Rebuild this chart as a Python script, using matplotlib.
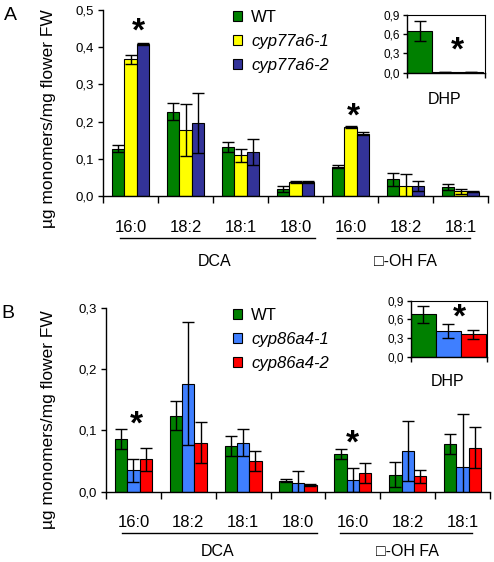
import matplotlib
matplotlib.use("Agg")
import matplotlib.pyplot as plt
from matplotlib.patches import Patch
import numpy as np

plt.rcParams['font.family'] = ['Liberation Sans', 'DejaVu Sans']

# fatty acid groups on the x axis
groups = ['16:0', '18:2', '18:1', '18:0', '16:0', '18:2', '18:1']
class_names = ['DCA', '\u25a1-OH FA']

# panel A: cyp77a6 lines
lines_a = ['WT', 'cyp77a6-1', 'cyp77a6-2']
colors_a = ['#008000', '#ffff00', '#333399']
a_wt = [0.127, 0.227, 0.132, 0.018, 0.078, 0.045, 0.023]
a_wt_err = [0.010, 0.022, 0.013, 0.008, 0.004, 0.018, 0.008]
a_m1 = [0.367, 0.177, 0.109, 0.038, 0.185, 0.027, 0.013]
a_m1_err = [0.013, 0.070, 0.017, 0.003, 0.003, 0.032, 0.007]
a_m2 = [0.408, 0.196, 0.118, 0.037, 0.168, 0.027, 0.012]
a_m2_err = [0.003, 0.080, 0.036, 0.002, 0.003, 0.013, 0.001]
a_dhp = [0.655, 0.012, 0.004]
a_dhp_err = [0.155, 0.004, 0.0]

# panel B: cyp86a4 lines
lines_b = ['WT', 'cyp86a4-1', 'cyp86a4-2']
colors_b = ['#008000', '#3f7fff', '#ff0000']
b_wt = [0.086, 0.124, 0.075, 0.018, 0.062, 0.028, 0.078]
b_wt_err = [0.016, 0.024, 0.016, 0.002, 0.008, 0.021, 0.016]
b_m1 = [0.035, 0.176, 0.080, 0.015, 0.019, 0.066, 0.041]
b_m1_err = [0.019, 0.100, 0.022, 0.018, 0.019, 0.049, 0.086]
b_m2 = [0.053, 0.080, 0.050, 0.011, 0.031, 0.025, 0.072]
b_m2_err = [0.019, 0.033, 0.016, 0.001, 0.016, 0.011, 0.033]
b_dhp = [0.68, 0.413, 0.36]
b_dhp_err = [0.14, 0.11, 0.07]

yticks_a = [0.0, 0.1, 0.2, 0.3, 0.4, 0.5]
yticks_b = [0.0, 0.1, 0.2, 0.3]
dhp_ticks = [0.0, 0.3, 0.6, 0.9]

W, H = 494, 562
fig = plt.figure(figsize=(W / 100, H / 100), dpi=100)


def fig_rect(x0, y0, x1, y1):
    # pixel box -> figure fraction rect
    return [x0 / W, 1 - y1 / H, (x1 - x0) / W, (y1 - y0) / H]


def comma(v):
    return f"{v:.1f}".replace('.', ',')


def main_panel(rect, series, errs, colors, yticks, labels, letter, letter_xy, ylab_xy, class_y):
    ax = fig.add_axes(rect)
    x = np.arange(len(groups))
    w = 0.225
    for i, (vals, err, c) in enumerate(zip(series, errs, colors)):
        xs = x + (i - 1) * w
        ax.bar(xs, vals, w, color=c, edgecolor='black', linewidth=0.8, zorder=2)
        ax.errorbar(xs, vals, yerr=err, fmt='none', ecolor='black',
                    elinewidth=1.0, capsize=4.5, capthick=1.0, zorder=3)
    ax.set_xlim(-0.5, len(groups) - 0.5)
    ax.set_ylim(yticks[0], yticks[-1])
    ax.set_yticks(yticks, [comma(v) for v in yticks], fontsize=9.5)
    ax.set_xticks(np.arange(-0.5, len(groups)), [])
    ax.set_xticks(x, groups, minor=True, fontsize=12)
    ax.tick_params(axis='x', which='major', length=5, width=1)
    ax.tick_params(axis='x', which='minor', length=0, pad=17)
    ax.tick_params(axis='y', length=3.5, width=1, pad=3)
    for s in ['top', 'right']:
        ax.spines[s].set_visible(False)
    for s in ['left', 'bottom']:
        ax.spines[s].set_linewidth(1)
    # class brackets under the groups
    tr = ax.get_xaxis_transform()
    ax.plot([-0.2, 3.35], [-0.226, -0.226], color='black', lw=1, transform=tr, clip_on=False)
    ax.plot([3.76, 6.18], [-0.226, -0.226], color='black', lw=1, transform=tr, clip_on=False)
    ax.text(1.53, class_y, class_names[0], transform=tr, ha='center', va='center', fontsize=11.5)
    ax.text(4.99, class_y, class_names[1], transform=tr, ha='center', va='center', fontsize=11.5)
    handles = [Patch(facecolor=c, edgecolor='black', linewidth=0.8) for c in colors]
    leg = ax.legend(handles, labels, loc='upper left', frameon=False, fontsize=12,
                    handlelength=0.55, handleheight=0.55, handletextpad=0.55,
                    labelspacing=0.55, borderpad=0, borderaxespad=0,
                    bbox_to_anchor=(233 / W, 1 - (letter_xy[1] - 5) / H),
                    bbox_transform=fig.transFigure)
    for t in leg.get_texts()[1:]:
        t.set_style('italic')
    fig.text(letter_xy[0] / W, 1 - letter_xy[1] / H, letter, fontsize=14,
             ha='center', va='center')
    fig.text(ylab_xy[0] / W, 1 - ylab_xy[1] / H, '\u00b5g monomers/mg flower FW',
             rotation=90, fontsize=12.5, ha='center', va='center')
    return ax


def dhp_panel(rect, vals, err, colors):
    ax = fig.add_axes(rect)
    x = np.arange(len(vals))
    ax.bar(x, vals, 1.0, color=colors, edgecolor='black', linewidth=0.8, zorder=2)
    ax.errorbar(x, vals, yerr=err, fmt='none', ecolor='black',
                elinewidth=1.0, capsize=4.5, capthick=1.0, zorder=3)
    ax.set_xlim(-0.5, 2.56)
    ax.set_ylim(0, 0.9)
    ax.set_yticks(dhp_ticks, [comma(v) for v in dhp_ticks], fontsize=8.5)
    ax.set_xticks([-0.5, 2.56], [])
    ax.tick_params(axis='x', length=3.5, width=1)
    ax.tick_params(axis='y', length=3, width=1, pad=2)
    for s in ['left', 'bottom']:
        ax.spines[s].set_linewidth(1)
    for s in ['top', 'right']:
        ax.spines[s].set_linewidth(0.8)
    return ax


ax_a = main_panel(fig_rect(103, 10, 488, 196), [a_wt, a_m1, a_m2],
                  [a_wt_err, a_m1_err, a_m2_err], colors_a, yticks_a, lines_a,
                  'A', (10, 15), (48, 119), -0.35)
ax_a.text(0.14, 0.44, '*', fontsize=24, fontweight='bold', ha='center', va='center')
ax_a.text(4.05, 0.212, '*', fontsize=24, fontweight='bold', ha='center', va='center')

ins_a = dhp_panel(fig_rect(407, 15, 485, 72.7), a_dhp, a_dhp_err, colors_a)
ins_a.text(1.46, 0.33, '*', fontsize=24, fontweight='bold', ha='center', va='center')
fig.text(445 / W, 1 - 100 / H, 'DHP', fontsize=11.5, ha='center', va='center')

ax_b = main_panel(fig_rect(106, 307.7, 490, 491.7), [b_wt, b_m1, b_m2],
                  [b_wt_err, b_m1_err, b_m2_err], colors_b, yticks_b, lines_b,
                  'B', (8, 313), (49, 420), -0.325)
ax_b.text(0.06, 0.108, '*', fontsize=24, fontweight='bold', ha='center', va='center')
ax_b.text(3.99, 0.078, '*', fontsize=24, fontweight='bold', ha='center', va='center')

ins_b = dhp_panel(fig_rect(410.7, 300.7, 487.3, 356.7), b_dhp, b_dhp_err, colors_b)
ins_b.text(1.44, 0.62, '*', fontsize=24, fontweight='bold', ha='center', va='center')
fig.text(448 / W, 1 - 381 / H, 'DHP', fontsize=11.5, ha='center', va='center')

fig.savefig('out.png', dpi=100)
